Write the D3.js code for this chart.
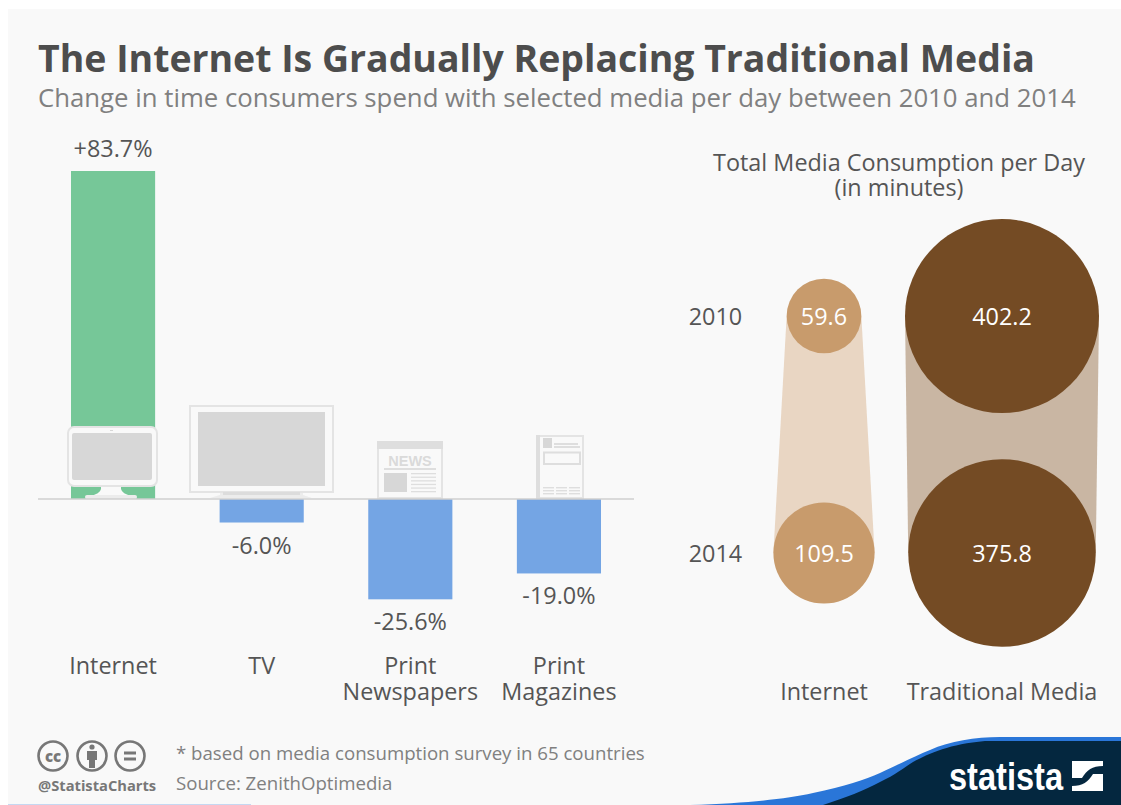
<!DOCTYPE html>
<html>
<head>
<meta charset="utf-8">
<script src="https://cdnjs.cloudflare.com/ajax/libs/d3/7.8.5/d3.min.js"></script>
<style>
html,body{margin:0;padding:0;background:#fff;}
svg{display:block;}
text{font-family:"Open Sans",sans-serif;}
</style>
</head>
<body>
<svg id="chart" width="1121" height="805"></svg>
<script>
// Change in daily media time, 2010-2014 (percent)
const mediaCategories = ["Internet", "TV", "Print Newspapers", "Print Magazines"];
const mediaChange = [83.7, -6.0, -25.6, -19.0];

// Total consumption per day (minutes)
const years = ["2010", "2014"];
const consumptionGroups = ["Internet", "Traditional Media"];
const internetMinutes = [59.6, 109.5];
const traditionalMinutes = [402.2, 375.8];

const pageBg = "#f9f9f9";
const labelSize = 23.4;
const svg = d3.select("#chart");
svg.append("rect").attr("x", 8).attr("y", 9).attr("width", 1113).attr("height", 796).attr("fill", pageBg);

svg.append("text").attr("x", 38).attr("y", 72).attr("font-size", 37.45).attr("font-weight", 700)
  .attr("fill", "#4d4d4d").text("The Internet Is Gradually Replacing Traditional Media");
svg.append("text").attr("x", 38).attr("y", 107).attr("font-size", 25.75).attr("fill", "#808080")
  .text("Change in time consumers spend with selected media per day between 2010 and 2014");

// ---- Bar chart ----
const x = d3.scaleBand().domain(mediaCategories).range([38, 634]).paddingInner(0.434).paddingOuter(0.222);
const y = d3.scaleLinear().domain([0, 83.7]).range([499, 171]);

svg.append("g").selectAll("rect").data(mediaChange).join("rect")
  .attr("x", (d, i) => x(mediaCategories[i]))
  .attr("width", x.bandwidth())
  .attr("y", d => Math.min(y(d), y(0)))
  .attr("height", d => Math.abs(y(d) - y(0)))
  .attr("fill", d => d > 0 ? "#76c798" : "#74a5e4");

svg.append("g").selectAll("text").data(mediaChange).join("text")
  .attr("x", (d, i) => x(mediaCategories[i]) + x.bandwidth() / 2)
  .attr("y", d => d > 0 ? y(d) - 14 : y(d) + 31)
  .attr("text-anchor", "middle").attr("font-size", labelSize).attr("fill", "#555")
  .text(d => (d > 0 ? "+" : "") + d.toFixed(1) + "%");

const catLabels = svg.append("g").selectAll("text").data(mediaCategories).join("text")
  .attr("text-anchor", "middle").attr("font-size", labelSize).attr("fill", "#555")
  .attr("transform", d => `translate(${x(d) + x.bandwidth() / 2},674)`);
catLabels.selectAll("tspan").data(d => d.split(" ")).join("tspan")
  .attr("x", 0).attr("dy", (d, i) => i ? 26 : 0).text(d => d);

// Device and print pictograms standing on the zero line
const icons = svg.append("g");
const box = (g, x0, y0, x1, y1, fill, stroke, rx) => g.append("rect")
  .attr("x", x0).attr("y", y0).attr("width", x1 - x0).attr("height", y1 - y0)
  .attr("fill", fill).attr("stroke", stroke || "none").attr("stroke-width", stroke ? 2 : 0).attr("rx", rx || 0);
const iconLine = "#e4e4e4", iconFill = "#d7d7d7";

// desktop computer: the neck flares out into its foot
icons.append("path").attr("fill", pageBg)
  .attr("d", "M101,486V489Q100,494 90,496L85,499H137L132,496Q122,494 121,489V486Z");
box(icons, 68, 427, 157, 486, pageBg, iconLine, 6);
box(icons, 72, 433, 152, 480, iconFill, null, 2);
box(icons, 85, 495, 137, 499, "#ececec", null, 2);
box(icons, 110, 430, 113, 431, iconFill);

// television
box(icons, 190, 406, 333, 492, pageBg, iconLine);
box(icons, 198, 412, 325, 486, iconFill);
icons.append("path").attr("fill", "#ececec").attr("d", "M220,493H303V495L312,498H210L220,495Z");
box(icons, 223, 492, 300, 495, "#dcdcdc");

// newspaper
box(icons, 378, 442, 442, 498, pageBg, iconLine);
box(icons, 377, 441, 443, 449, "#dedede");
icons.append("text").attr("x", 410).attr("y", 465.5).attr("text-anchor", "middle")
  .attr("font-size", 14.5).attr("font-weight", 700).attr("fill", "#dadada")
  .style("font-family", "'Liberation Sans',sans-serif").text("NEWS");
box(icons, 384, 468, 436, 470, "#dedede");
box(icons, 384, 473, 407, 492, iconFill);
d3.range(6).forEach(i => box(icons, 411, 473 + i * 3.6, 436, 474.3 + i * 3.6, "#dedede"));

// magazine
box(icons, 537, 436, 583, 498, pageBg, iconLine);
box(icons, 536, 435, 540, 498, "#dedede");
box(icons, 543, 438, 552, 448, iconFill);
box(icons, 554, 443, 578, 445, "#dedede");
box(icons, 554, 446, 580, 448, "#dedede");
box(icons, 544, 452.5, 580, 464, "none", "#dedede");
[543, 556, 569].forEach(c => [487, 490, 493].forEach(r => box(icons, c, r, c + 11, r + 1.4, "#dedede")));

// zero line
svg.append("line").attr("x1", 38).attr("x2", 634).attr("y1", y(0)).attr("y2", y(0))
  .attr("stroke", "#cfcfcf").attr("stroke-width", 1.6);

// ---- Bubble chart ----
const bx = d3.scalePoint().domain(consumptionGroups).range([824, 1002]);
const by = d3.scalePoint().domain(years).range([316, 553]);
const r = d3.scaleSqrt().domain([0, 402.2]).range([0, 97]);

svg.append("text").attr("x", 899).attr("y", 171).attr("text-anchor", "middle").attr("font-size", labelSize).attr("fill", "#555")
  .text("Total Media Consumption per Day");
svg.append("text").attr("x", 899).attr("y", 196).attr("text-anchor", "middle").attr("font-size", labelSize).attr("fill", "#555")
  .text("(in minutes)");

const bubbleSeries = [
  {name: consumptionGroups[0], values: internetMinutes, band: "#e9d6c3", fill: "#c89b6c"},
  {name: consumptionGroups[1], values: traditionalMinutes, band: "#c9b6a3", fill: "#744b24"}
];

bubbleSeries.forEach(s => {
  const cx = bx(s.name);
  const area = d3.area().x0(d => cx - r(d)).x1(d => cx + r(d)).y((d, i) => by(years[i]));
  svg.append("path").attr("d", area(s.values)).attr("fill", s.band);
  s.values.forEach((v, i) => {
    svg.append("circle").attr("cx", cx).attr("cy", by(years[i])).attr("r", r(v)).attr("fill", s.fill);
    svg.append("text").attr("x", cx).attr("y", by(years[i]) + 8.6).attr("text-anchor", "middle")
      .attr("font-size", labelSize).attr("fill", "#fff").text(v.toFixed(1));
  });
  svg.append("text").attr("x", cx).attr("y", 700).attr("text-anchor", "middle")
    .attr("font-size", labelSize).attr("fill", "#555").text(s.name);
});

years.forEach(yr => svg.append("text").attr("x", 715.5).attr("y", by(yr) + 8.6).attr("text-anchor", "middle")
  .attr("font-size", labelSize).attr("fill", "#555").text(yr));

// ---- Footer ----
const cc = svg.append("g").attr("fill", "none").attr("stroke", "#777").attr("stroke-width", 2.6);
[53, 92, 130].forEach(c => cc.append("circle").attr("cx", c).attr("cy", 756).attr("r", 14.5));
svg.append("text").attr("x", 53).attr("y", 761.5).attr("text-anchor", "middle").attr("font-size", 15)
  .attr("font-weight", 800).attr("fill", "#777").text("cc");
svg.append("circle").attr("cx", 92).attr("cy", 747).attr("r", 2.6).attr("fill", "#777");
svg.append("path").attr("fill", "#777").attr("d", "M87,751H97V760H95V768H89V760H87Z");
box(svg, 124, 751.5, 136, 754.5, "#777");
box(svg, 124, 757.5, 136, 760.5, "#777");

svg.append("text").attr("x", 38).attr("y", 791).attr("font-size", 14.7).attr("font-weight", 700).attr("fill", "#777").text("@StatistaCharts");
svg.append("text").attr("x", 176).attr("y", 760).attr("font-size", 18.65).attr("fill", "#808080")
  .text("* based on media consumption survey in 65 countries");
svg.append("text").attr("x", 176).attr("y", 790).attr("font-size", 18.65).attr("fill", "#808080")
  .text("Source: ZenithOptimedia");

// brand swoosh
svg.append("rect").attr("x", 8).attr("y", 804).attr("width", 243).attr("height", 1).attr("fill", "#c5d8f2");
svg.append("path").attr("fill", "#2a76d8")
  .attr("d", "M690,805C750,803 785,799 813,793C845,786 865,780 880,773C900,764 915,756 930,750C950,741 975,737 1000,737H1121V805Z");
svg.append("path").attr("fill", "#04273f")
  .attr("d", "M823,805C845,798 865,790 880,782C895,775 905,767 913,762C930,753 950,744 985,741H1121V805Z");
svg.append("text").attr("x", 949).attr("y", 790).attr("font-size", 39).attr("font-weight", 700)
  .attr("fill", "#fff").attr("textLength", 114).attr("lengthAdjust", "spacingAndGlyphs")
  .style("font-family", "'Liberation Sans',sans-serif").text("statista");
svg.append("path").attr("fill", "#fff")
  .attr("d", "M1072,761H1103L1103,766C1092,766 1087,770 1082,778H1072Z M1103,791H1072V786C1083,786 1088,782 1093,774H1103Z");
</script>
</body>
</html>
